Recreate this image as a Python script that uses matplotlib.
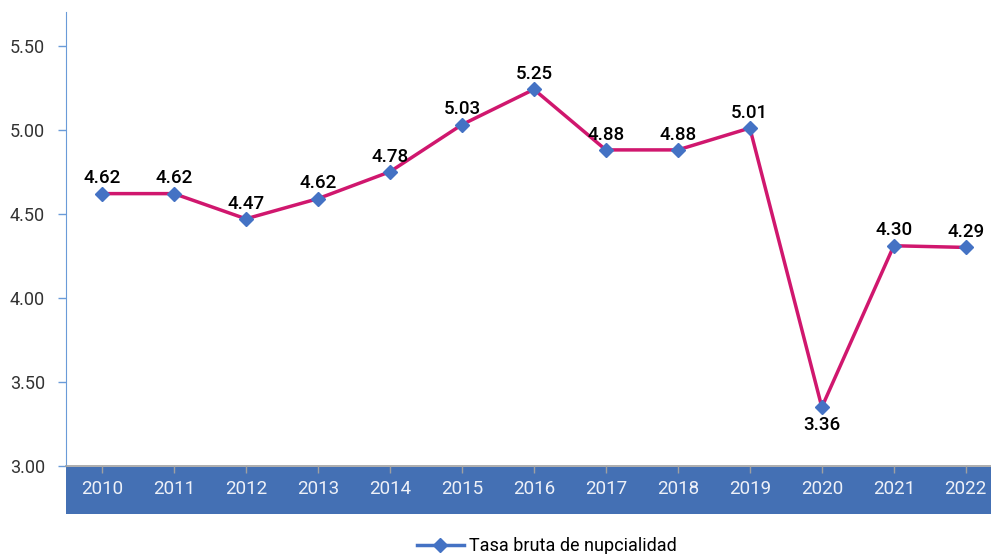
import matplotlib.pyplot as plt
from matplotlib.lines import Line2D
from matplotlib.patches import Rectangle

# Data
years = ['2010', '2011', '2012', '2013', '2014', '2015', '2016',
         '2017', '2018', '2019', '2020', '2021', '2022']
tasa = [4.62, 4.62, 4.47, 4.59, 4.75, 5.03, 5.24, 4.88, 4.88, 5.01, 3.35, 4.31, 4.30]
etiquetas = ['4.62', '4.62', '4.47', '4.62', '4.78', '5.03', '5.25',
             '4.88', '4.88', '5.01', '3.36', '4.30', '4.29']
y_ticks = [3.0, 3.5, 4.0, 4.5, 5.0, 5.5]

line_color = '#D0176E'
marker_color = '#4472C4'
band_color = '#4470B4'

plt.rcParams['font.family'] = ['Roboto', 'DejaVu Sans']

fig = plt.figure(figsize=(9.91, 5.54), dpi=100)
ax = fig.add_axes([0.0666, 0.1588, 0.9334, 0.8195])

x = list(range(len(years)))
ax.plot(x, tasa, color=line_color, linewidth=2.5, marker='D', markersize=7,
        markerfacecolor=marker_color, markeredgecolor=marker_color, zorder=3)

# Data labels
for i, (v, lab) in enumerate(zip(tasa, etiquetas)):
    if i == 10:
        ax.annotate(lab, (i, v), xytext=(0, -6), textcoords='offset points',
                    ha='center', va='top', fontsize=13.5, fontweight='medium')
    else:
        ax.annotate(lab, (i, v), xytext=(0, 4.5), textcoords='offset points',
                    ha='center', va='bottom', fontsize=13.5, fontweight='medium')

ax.set_xlim(-0.5, 12.35)
ax.set_ylim(3.0, 5.7)
ax.set_yticks(y_ticks)
ax.set_yticklabels([f'{t:.2f}' for t in y_ticks], fontsize=13, color='#333333')
ax.tick_params(axis='y', color='#6A9BD8', length=6, width=1, pad=9)

ax.set_xticks(x)
ax.set_xticklabels(years, fontsize=13.5, color='#EEF1F8')
ax.tick_params(axis='x', color='#A0A0A0', length=5, width=1, pad=5)

ax.spines['top'].set_visible(False)
ax.spines['right'].set_visible(False)
ax.spines['left'].set_color('#6A9BD8')
ax.spines['bottom'].set_color('#A0A0A0')
ax.spines['bottom'].set_linewidth(1.2)

# Blue band behind the year labels
band = Rectangle((0, -0.106), 1.0, 0.104, transform=ax.transAxes,
                 facecolor=band_color, edgecolor='none', clip_on=False, zorder=0)
ax.add_patch(band)
for lbl in ax.get_xticklabels():
    lbl.set_zorder(5)

# Legend
handle = Line2D([], [], color=marker_color, linewidth=2.5, marker='D',
                markersize=7, markerfacecolor=marker_color)
fig.legend([handle], ['Tasa bruta de nupcialidad'], loc='center',
           bbox_to_anchor=(0.552, 0.014), frameon=False, fontsize=13,
           handlelength=2.6, handletextpad=0.3)

fig.savefig('out.png', dpi=100)
